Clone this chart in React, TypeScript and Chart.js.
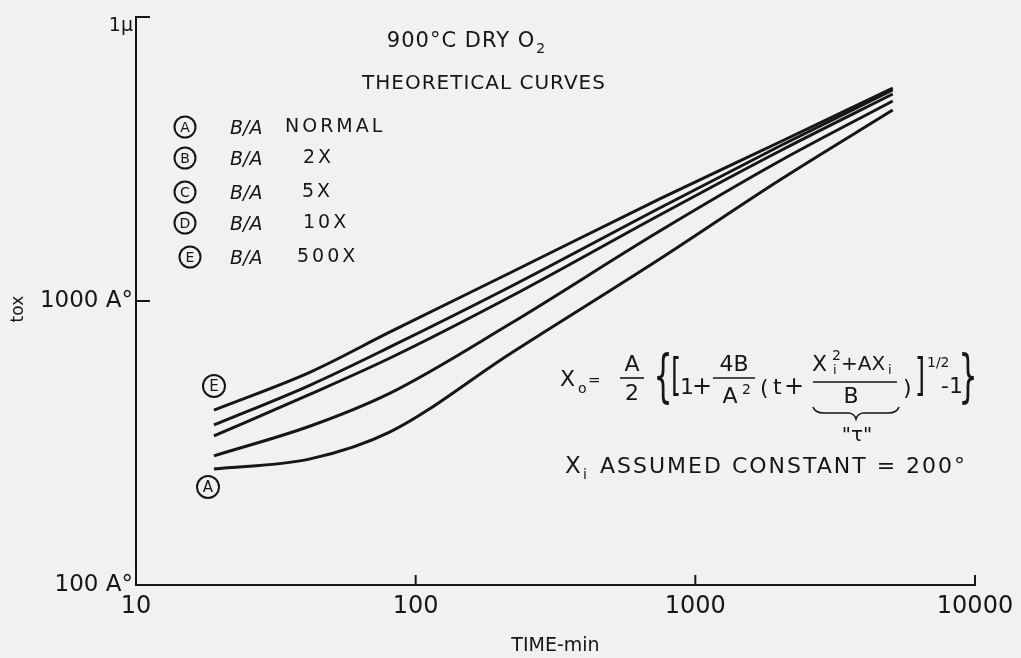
import React, { useEffect, useRef } from 'react';
import { Chart, registerables } from 'chart.js';

Chart.register(...registerables);

// ---- data ----
const timeMin = [19, 42, 81, 217, 746, 2005, 5080];
const thicknessA = [256, 278, 346, 651, 1406, 2668, 4705];
const thicknessB = [285, 363, 474, 830, 1764, 3112, 5061];
const thicknessC = [335, 470, 630, 1033, 2009, 3375, 5356];
const thicknessD = [366, 506, 689, 1120, 2126, 3513, 5534];
const thicknessE = [413, 562, 778, 1255, 2287, 3630, 5623];

const xTickValues = [10, 100, 1000, 10000];
const xTickLabels = ['10', '100', '1000', '10000'];
const yTickValues = [100, 1000, 10000];
const yTickLabels = ['100 A°', '1000 A°', '1μ'];

const legendKeys = ['A', 'B', 'C', 'D', 'E'];
const legendRatios = ['NORMAL', '2X', '5X', '10X', '500X'];

const INK = '#161616';
const PAPER = '#f1f1f0';
const FF = '"DejaVu Sans", sans-serif';

function put(
  ctx: CanvasRenderingContext2D,
  s: string,
  x: number,
  y: number,
  size: number,
  align: CanvasTextAlign = 'left',
  italic = false,
  spacing = 0
) {
  ctx.font = `${italic ? 'italic ' : ''}${size}px ${FF}`;
  (ctx as any).letterSpacing = `${spacing}px`;
  ctx.textAlign = align;
  ctx.textBaseline = 'middle';
  ctx.fillText(s, x, y);
  (ctx as any).letterSpacing = '0px';
}

function tall(ctx: CanvasRenderingContext2D, s: string, x: number, y: number, size: number, sy: number) {
  ctx.save();
  ctx.translate(x, y);
  ctx.scale(1, sy);
  ctx.font = `${size}px ${FF}`;
  ctx.textAlign = 'center';
  ctx.textBaseline = 'middle';
  ctx.fillText(s, 0, 0);
  ctx.restore();
}

function hline(ctx: CanvasRenderingContext2D, x1: number, x2: number, y: number, w = 1.6) {
  ctx.beginPath();
  ctx.lineWidth = w;
  ctx.moveTo(x1, y);
  ctx.lineTo(x2, y);
  ctx.stroke();
}

function circled(ctx: CanvasRenderingContext2D, letter: string, x: number, y: number, r: number, size: number) {
  ctx.beginPath();
  ctx.lineWidth = 2;
  ctx.arc(x, y, r, 0, Math.PI * 2);
  ctx.stroke();
  put(ctx, letter, x, y + 1, size, 'center');
}

const decorPlugin = {
  id: 'decor',
  beforeDraw(chart: any) {
    const ctx = chart.ctx as CanvasRenderingContext2D;
    ctx.save();
    ctx.fillStyle = PAPER;
    ctx.fillRect(0, 0, chart.width, chart.height);
    ctx.restore();
  },
  afterDraw(chart: any) {
    const ctx = chart.ctx as CanvasRenderingContext2D;
    const xs = chart.scales.x;
    const ys = chart.scales.y;
    ctx.save();
    ctx.strokeStyle = INK;
    ctx.fillStyle = INK;
    ctx.lineCap = 'butt';

    // inward tick marks
    const yBase = ys.getPixelForValue(yTickValues[0]);
    const xBase = xs.getPixelForValue(xTickValues[0]);
    ctx.lineWidth = 2;
    xTickValues.slice(1).forEach((v) => {
      const px = xs.getPixelForValue(v);
      ctx.beginPath();
      ctx.moveTo(px, yBase);
      ctx.lineTo(px, yBase - 10);
      ctx.stroke();
    });
    yTickValues.slice(1).forEach((v) => {
      const py = ys.getPixelForValue(v);
      ctx.beginPath();
      ctx.moveTo(xBase, py);
      ctx.lineTo(xBase + 14, py);
      ctx.stroke();
    });

    // title
    const t1 = '900°C DRY O';
    const c1 = 466;
    ctx.font = `21px ${FF}`;
    (ctx as any).letterSpacing = '1px';
    const w1 = ctx.measureText(t1).width;
    (ctx as any).letterSpacing = '0px';
    put(ctx, t1, c1 - 5, 42, 21, 'center', false, 1);
    put(ctx, '2', c1 - 5 + w1 / 2 + 1, 49, 14, 'left');
    put(ctx, 'THEORETICAL CURVES', 484, 84, 20, 'center', false, 1);

    // legend
    const rowY = [127, 158, 192, 223, 257];
    legendKeys.forEach((k, i) => {
      circled(ctx, k, 185 + (i === 4 ? 5 : 0), rowY[i], 10.5, 14);
      put(ctx, 'B/A', 230, rowY[i] + 2, 19, 'left', true);
    });
    put(ctx, legendRatios[0], 285, rowY[0], 19, 'left', false, 3);
    put(ctx, legendRatios[1], 303, rowY[1], 19, 'left', false, 3);
    put(ctx, legendRatios[2], 302, rowY[2], 19, 'left', false, 3);
    put(ctx, legendRatios[3], 303, rowY[3], 19, 'left', false, 3);
    put(ctx, legendRatios[4], 297, rowY[4], 19, 'left', false, 3);

    // curve labels
    circled(ctx, 'E', 214, 386, 11, 15);
    circled(ctx, 'A', 208, 487, 11, 15);

    // formula
    put(ctx, 'X', 560, 380, 22);
    put(ctx, 'o', 578, 389, 14);
    put(ctx, '=', 588, 381, 15);
    put(ctx, 'A', 632, 365, 22, 'center');
    hline(ctx, 620, 644, 378);
    put(ctx, '2', 632, 394, 22, 'center');
    tall(ctx, '{', 663, 380, 30, 1.9);
    tall(ctx, '[', 676, 379, 26, 1.7);
    put(ctx, '1', 680, 388, 22);
    put(ctx, '+', 692, 388, 24);
    put(ctx, '4B', 734, 365, 22, 'center');
    hline(ctx, 713, 755, 378);
    put(ctx, 'A', 730, 397, 22, 'center');
    put(ctx, '2', 742, 390, 14);
    put(ctx, '(', 760, 389, 22);
    put(ctx, 't', 773, 388, 22);
    put(ctx, '+', 784, 388, 24);
    put(ctx, 'X', 812, 365, 22);
    put(ctx, '2', 832, 356, 14);
    put(ctx, 'i', 833, 371, 13);
    put(ctx, '+AX', 841, 365, 20);
    put(ctx, 'i', 888, 371, 13);
    hline(ctx, 813, 897, 382);
    put(ctx, 'B', 851, 397, 22, 'center');
    // underbrace
    ctx.beginPath();
    ctx.lineWidth = 1.6;
    ctx.moveTo(813, 407);
    ctx.quadraticCurveTo(815, 413, 824, 413);
    ctx.lineTo(848, 413);
    ctx.quadraticCurveTo(854, 413, 856, 419);
    ctx.quadraticCurveTo(858, 413, 864, 413);
    ctx.lineTo(888, 413);
    ctx.quadraticCurveTo(897, 413, 899, 407);
    ctx.stroke();
    put(ctx, '"τ"', 857, 436, 20, 'center');
    put(ctx, ')', 903, 389, 22);
    tall(ctx, ']', 920, 379, 26, 1.7);
    put(ctx, '1/2', 927, 363, 14);
    put(ctx, '-1', 941, 387, 22);
    tall(ctx, '}', 968, 380, 30, 1.9);

    // assumption line
    put(ctx, 'X', 565, 467, 23);
    put(ctx, 'i', 583, 475, 14);
    put(ctx, 'ASSUMED CONSTANT = 200°', 600, 467, 22, 'left', false, 2);

    ctx.restore();
  },
};

function series(ys: number[]) {
  return timeMin.map((t, i) => ({ x: t, y: ys[i] }));
}

export default function App() {
  const ref = useRef<HTMLCanvasElement | null>(null);

  useEffect(() => {
    if (!ref.current) return;
    const ds = (label: string, ys: number[]) => ({
      label,
      data: series(ys),
      borderColor: INK,
      borderWidth: 3,
      pointRadius: 0,
      fill: false,
      cubicInterpolationMode: 'monotone' as const,
    });
    const chart = new Chart(ref.current, {
      type: 'line',
      data: {
        datasets: [
          ds('A', thicknessA),
          ds('B', thicknessB),
          ds('C', thicknessC),
          ds('D', thicknessD),
          ds('E', thicknessE),
        ],
      },
      options: {
        responsive: false,
        animation: false,
        layout: { padding: { top: 17, right: 46, left: 0, bottom: 0 } },
        plugins: { legend: { display: false }, tooltip: { enabled: false } },
        scales: {
          x: {
            type: 'logarithmic',
            min: 10,
            max: 10000,
            afterBuildTicks: (s: any) => {
              s.ticks = xTickValues.map((v) => ({ value: v }));
            },
            afterFit: (s: any) => {
              s.height = 73;
              s.paddingLeft = 0;
              s.paddingRight = 0;
            },
            grid: { display: false, drawTicks: false },
            border: { display: true, color: INK, width: 2 },
            ticks: {
              color: INK,
              font: { family: FF, size: 24 },
              padding: 7,
              maxRotation: 0,
              autoSkip: false,
              callback: (v: any) => {
                const i = xTickValues.indexOf(Number(v));
                return i >= 0 ? xTickLabels[i] : '';
              },
            },
            title: {
              display: true,
              text: 'TIME-min',
              color: INK,
              font: { family: FF, size: 19 },
              padding: { top: 0, bottom: 1 },
            },
          },
          y: {
            type: 'logarithmic',
            min: 100,
            max: 10000,
            afterBuildTicks: (s: any) => {
              s.ticks = yTickValues.map((v) => ({ value: v }));
            },
            afterFit: (s: any) => {
              s.width = 136;
              s.paddingTop = 0;
              s.paddingBottom = 0;
            },
            grid: { display: false, drawTicks: false },
            border: { display: true, color: INK, width: 2 },
            ticks: {
              color: INK,
              font: (c: any) => ({
                family: FF,
                size: c.tick && c.tick.value === 10000 ? 19 : 23,
                lineHeight: 1.0,
              }),
              padding: 3,
              autoSkip: false,
              callback: (v: any) => {
                const i = yTickValues.indexOf(Number(v));
                if (i < 0) return '';
                return Number(v) === 10000 ? ['', yTickLabels[i]] : yTickLabels[i];
              },
            },
            title: {
              display: true,
              text: 'tox   ',
              color: INK,
              font: { family: FF, size: 17 },
              padding: { top: 8, bottom: 0 },
            },
          },
        },
      },
      plugins: [decorPlugin],
    });
    return () => chart.destroy();
  }, []);

  return (
    <div style={{ position: 'absolute', left: 0, top: 0, width: 1021, height: 658, background: PAPER }}>
      <canvas ref={ref} width={1021} height={658} style={{ display: 'block' }} />
    </div>
  );
}
